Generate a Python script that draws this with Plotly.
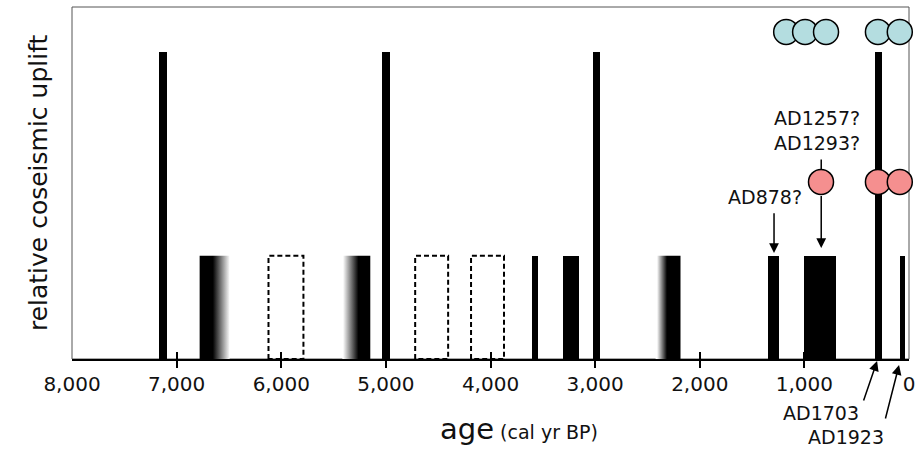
import plotly.graph_objects as go

# ---------------- data (ages in cal yr BP) ----------------
tall_start = [7170, 5035, 3025, 325]
tall_end = [7095, 4960, 2950, 255]
tall_height = 0.872

solid_start = [3604, 3309, 1345, 1001, 86]
solid_end = [3547, 3156, 1240, 696, 38]
short_height = 0.293

grad_start = [6780, 5416, 2422]          # older edge
grad_end = [6494, 5149, 2184]            # younger edge
grad_scales = [
    [[0, "black"], [0.43, "black"], [1, "white"]],
    [[0, "white"], [0.55, "black"], [1, "black"]],
    [[0, "white"], [0.40, "black"], [1, "black"]],
]

dash_start = [6122, 4720, 4186]
dash_end = [5788, 4405, 3871]

blue_age = [1174, 993, 793, 297, 88]
blue_y = 0.929
red_age = [841, 297, 88]
red_y = 0.503

tick_vals = [8000, 7000, 6000, 5000, 4000, 3000, 2000, 1000, 0]
minor_ticks = [7000, 6000, 5000, 4000, 3000, 2000, 1000]

FONT = "DejaVu Sans"

fig = go.Figure()

# invisible traces so the overlay tick axes are drawn
for ax in ["x2", "x3"]:
    fig.add_trace(go.Scatter(x=minor_ticks, y=[None] * len(minor_ticks), xaxis=ax,
                             mode="markers", showlegend=False, hoverinfo="skip"))

# gradient bars
for s, e, cs in zip(grad_start, grad_end, grad_scales):
    fig.add_trace(go.Scatter(
        x=[s, s, e, e, s], y=[0, short_height, short_height, 0, 0],
        mode="lines", line=dict(width=0), fill="toself",
        fillgradient=dict(type="horizontal", colorscale=cs, start=s, stop=e),
        hoverinfo="skip", showlegend=False))

# solid bars
all_s = tall_start + solid_start
all_e = tall_end + solid_end
heights = [tall_height] * len(tall_start) + [short_height] * len(solid_start)
fig.add_trace(go.Bar(
    x=[(s + e) / 2 for s, e in zip(all_s, all_e)],
    y=heights, base=0,
    width=[abs(s - e) for s, e in zip(all_s, all_e)],
    marker=dict(color="black", line=dict(width=0)),
    showlegend=False, hoverinfo="skip"))

# dashed boxes
for s, e in zip(dash_start, dash_end):
    fig.add_trace(go.Scatter(
        x=[s, s, e, e, s], y=[0, short_height, short_height, 0, 0],
        mode="lines", line=dict(color="black", width=2, dash="5px,3px"),
        hoverinfo="skip", showlegend=False))

# circles
fig.add_trace(go.Scatter(
    x=blue_age, y=[blue_y] * len(blue_age), mode="markers",
    marker=dict(size=25, color="#b4dde0", line=dict(color="black", width=1.5)),
    cliponaxis=False, showlegend=False, hoverinfo="skip"))

fig.add_trace(go.Scatter(
    x=red_age, y=[red_y] * len(red_age), mode="markers",
    marker=dict(size=25, color="#f58f8f", line=dict(color="black", width=1.5)),
    cliponaxis=False, showlegend=False, hoverinfo="skip"))

# annotation arrows
arrow_kw = dict(xref="x", yref="y", axref="x", ayref="y", text="", showarrow=True,
                arrowcolor="black", arrowwidth=1.5, arrowsize=1.3)
fig.add_annotation(x=1290, y=0.301, ax=1290, ay=0.418, arrowhead=2, **arrow_kw)
fig.add_annotation(x=839, y=0.538, ax=839, ay=0.571, arrowhead=0, **arrow_kw)
fig.add_annotation(x=839, y=0.315, ax=839, ay=0.467, arrowhead=2, **arrow_kw)

low_kw = dict(xref="x", yref="paper", text="", showarrow=True, arrowhead=2,
              arrowcolor="black", arrowwidth=1.5, arrowsize=1.3)
fig.add_annotation(x=305, y=-0.006, ax=-14, ay=41, **low_kw)
fig.add_annotation(x=95, y=-0.017, ax=-14, ay=55, **low_kw)

txt_font = dict(family=FONT, size=19, color="#111")
fig.add_annotation(x=877, y=0.65, xref="x", yref="y", text="AD1257?<br>AD1293?",
                   showarrow=False, font=txt_font, align="right")
fig.add_annotation(x=1373, y=0.46, xref="x", yref="y", text="AD878?",
                   showarrow=False, font=txt_font)
fig.add_annotation(x=839, y=-0.153, xref="x", yref="paper", yanchor="middle",
                   text="AD1703", showarrow=False, font=txt_font)
fig.add_annotation(x=601, y=-0.222, xref="x", yref="paper", yanchor="middle",
                   text="AD1923", showarrow=False, font=txt_font)

# axis titles
fig.add_annotation(x=0.534, y=-0.2, xref="paper", yref="paper",
                   xanchor="center", yanchor="middle",
                   text="<span style='font-size:29px'>age</span> (cal yr BP)",
                   showarrow=False, font=dict(family=FONT, size=19, color="#111"))
fig.add_annotation(x=-0.0405, y=0.5, xref="paper", yref="paper",
                   xanchor="center", yanchor="middle",
                   text="relative coseismic uplift", textangle=-90,
                   showarrow=False, font=dict(family=FONT, size=25, color="#111"))

# frame
fig.add_shape(type="rect", xref="paper", yref="paper", x0=0, x1=1, y0=0, y1=1,
              line=dict(color="#555", width=1), layer="below")

fig.update_layout(
    width=922, height=449,
    margin=dict(l=72, r=11, t=7, b=90),
    paper_bgcolor="white", plot_bgcolor="white",
    showlegend=False, bargap=0,
    xaxis=dict(range=[8000, 0], tickvals=tick_vals, tickformat=",d",
               ticks="", showgrid=False, zeroline=False,
               showline=True, linecolor="black", linewidth=2,
               tickfont=dict(family=FONT, size=20, color="#111"),
               ticklabelstandoff=6),
    xaxis2=dict(range=[8000, 0], overlaying="x", anchor="y", side="bottom",
                tickvals=minor_ticks, showticklabels=False, ticks="outside",
                ticklen=8, tickwidth=2, tickcolor="black",
                showgrid=False, zeroline=False, showline=False),
    xaxis3=dict(range=[8000, 0], overlaying="x", anchor="y", side="bottom",
                tickvals=minor_ticks, showticklabels=False, ticks="inside",
                ticklen=7, tickwidth=2, tickcolor="black",
                showgrid=False, zeroline=False, showline=False),
    yaxis=dict(range=[0, 1], showticklabels=False, ticks="", showgrid=False,
               zeroline=False, showline=False),
)

fig.write_html("out.html", config={"displayModeBar": False},
               post_script="document.body.style.margin='0px';")
